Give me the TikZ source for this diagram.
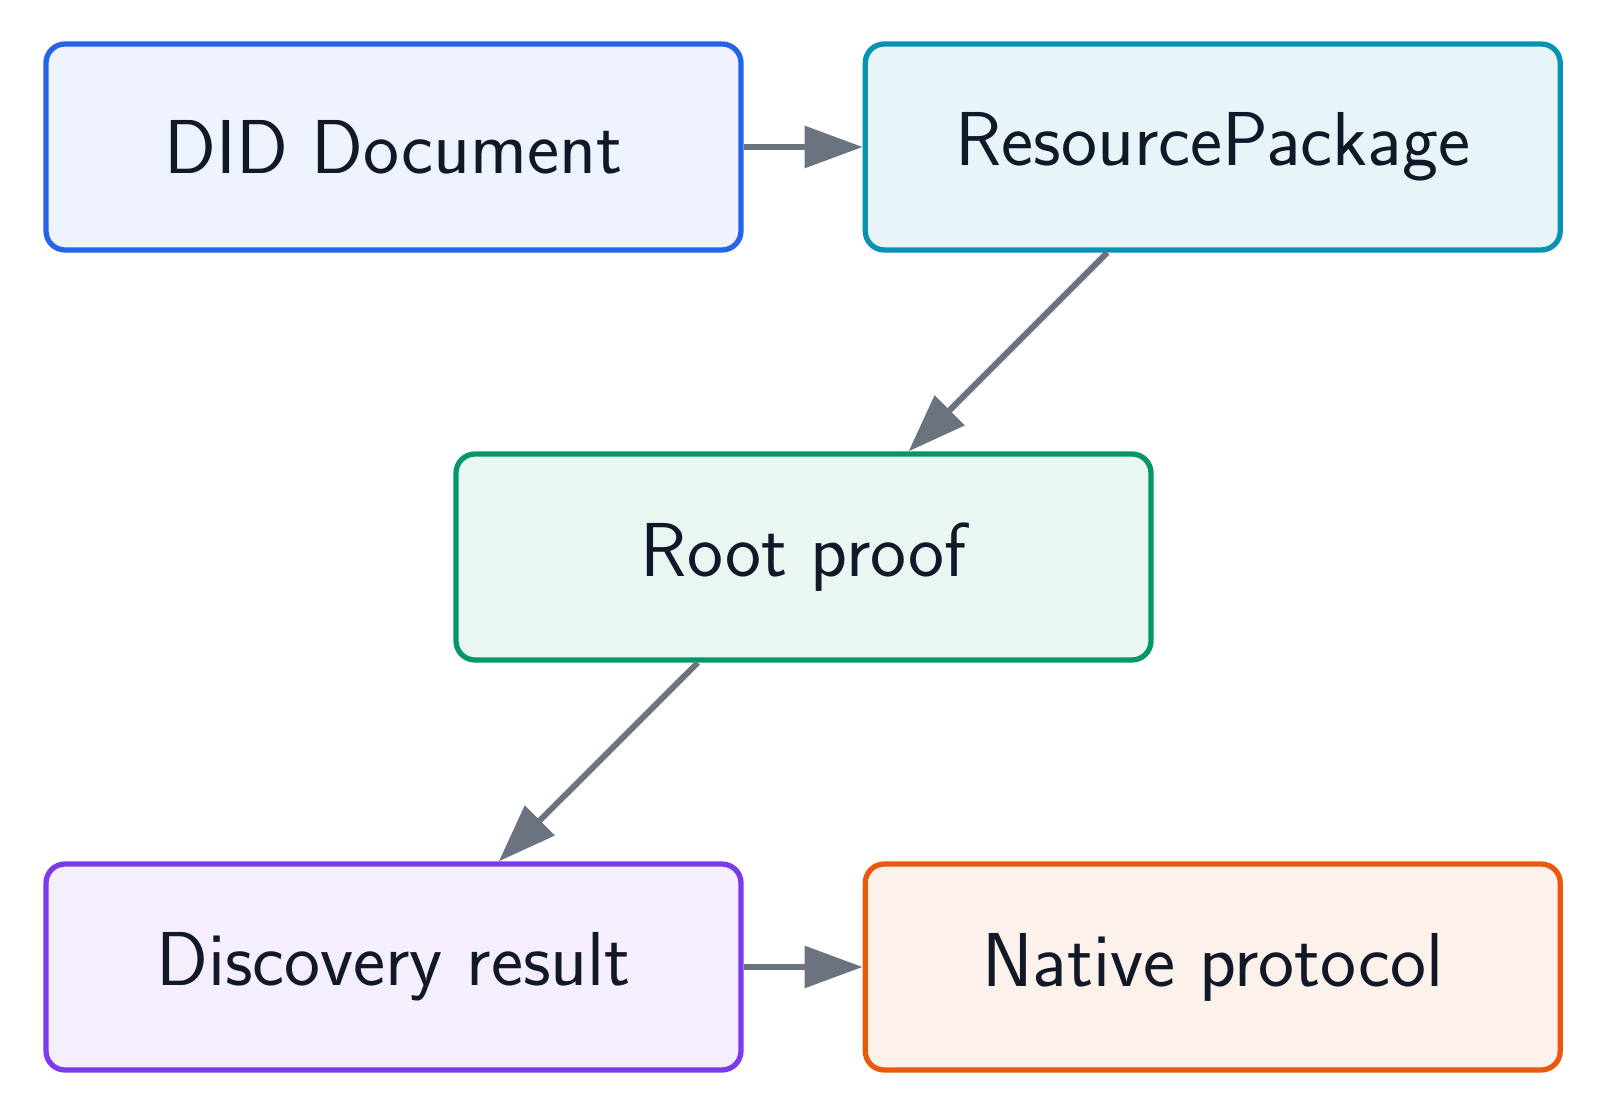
\documentclass[tikz,border=0pt]{standalone}
\usepackage{tikz}
\usetikzlibrary{arrows.meta, positioning}
\usepackage{xcolor}

\definecolor{inkdark}{HTML}{111827}
\definecolor{arrowgray}{HTML}{6B7280}
\definecolor{didblue}{HTML}{2563EB}
\definecolor{didfill}{HTML}{EEF3FE}
\definecolor{pkgteal}{HTML}{0891B2}
\definecolor{pkgfill}{HTML}{E8F5F8}
\definecolor{proofgreen}{HTML}{059669}
\definecolor{prooffill}{HTML}{E9F6F1}
\definecolor{discviolet}{HTML}{7C3AED}
\definecolor{discfill}{HTML}{F4EEFD}
\definecolor{nativeorange}{HTML}{EA580C}
\definecolor{nativefill}{HTML}{FDF2EB}

\begin{document}
\begin{tikzpicture}[
    font=\sffamily\fontsize{43.5}{52}\selectfont,
    stagebox/.style={
        rounded corners=0.38cm,
        line width=3pt,
        minimum width=13.9cm,
        minimum height=4.12cm,
        inner sep=0pt,
        text=inkdark
    },
    flow/.style={
        draw=arrowgray,
        line width=3.4pt,
        -{Triangle[length=1.16cm, width=0.82cm]}
    }
]

\useasboundingbox (0,0) rectangle (32.16,22.34);

% top row
\node[stagebox, draw=didblue, fill=didfill] (did) at (7.87,19.4) {DID Document};
\node[stagebox, draw=pkgteal, fill=pkgfill] (pkg) at (24.255,19.4) {ResourcePackage};

% middle
\node[stagebox, draw=proofgreen, fill=prooffill] (proof) at (16.07,11.2) {Root proof};

% bottom row
\node[stagebox, draw=discviolet, fill=discfill] (disc) at (7.87,3.0) {Discovery result};
\node[stagebox, draw=nativeorange, fill=nativefill] (native) at (24.255,3.0) {Native protocol};

% connectors
\draw[flow] (did) -- (pkg);
\draw[flow] (pkg) -- (proof);
\draw[flow] (proof) -- (disc);
\draw[flow] (disc) -- (native);

\end{tikzpicture}
\end{document}
